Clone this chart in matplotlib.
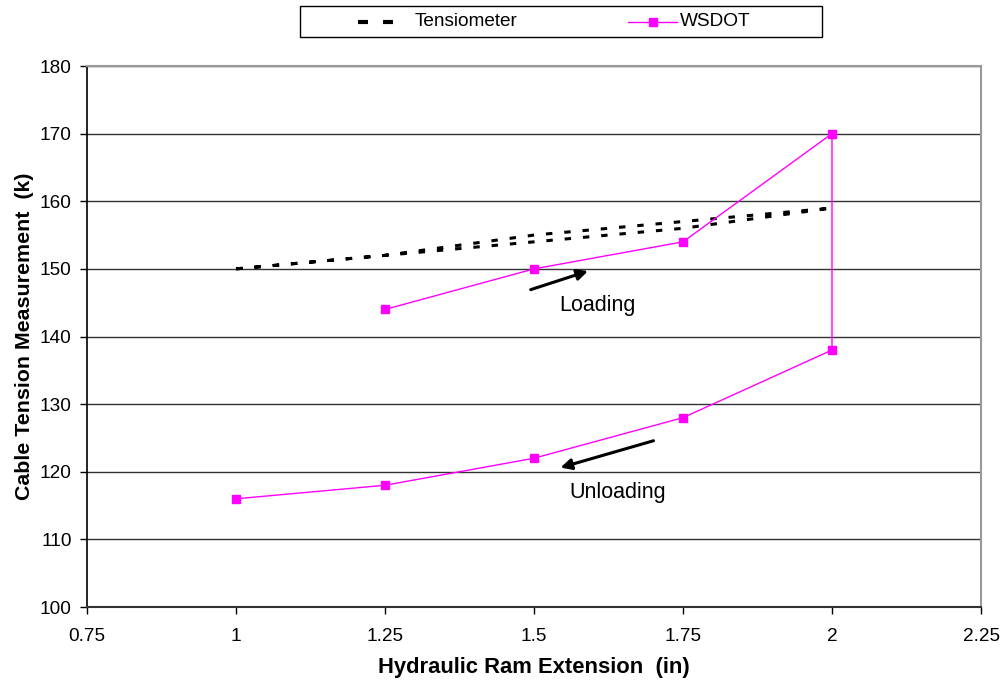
import matplotlib
matplotlib.use("Agg")
import matplotlib.pyplot as plt
from matplotlib.lines import Line2D
from matplotlib.patches import Rectangle

plt.rcParams['font.family'] = ['Liberation Sans', 'DejaVu Sans']

# Data
tens_x = [1.0, 1.25, 1.5, 1.75, 2.0, 1.75, 1.5, 1.25, 1.0]
tens_y = [150, 152, 154, 156, 159, 157, 155, 152, 150]
wsdot_x = [1.25, 1.5, 1.75, 2.0, 2.0, 1.75, 1.5, 1.25, 1.0]
wsdot_y = [144, 150, 154, 170, 138, 128, 122, 118, 116]
x_ticks = [0.75, 1.0, 1.25, 1.5, 1.75, 2.0, 2.25]
x_tick_labels = ["0.75", "1", "1.25", "1.5", "1.75", "2", "2.25"]
y_ticks = [100, 110, 120, 130, 140, 150, 160, 170, 180]
series_names = ['Tensiometer', 'WSDOT']

W, H = 1001, 681
fig = plt.figure(figsize=(W/100, H/100), dpi=100)
ax = fig.add_axes([87/W, 1-607/H, (981-87)/W, (607-66)/H])

ax.plot(tens_x, tens_y, color='black', lw=2.2, dashes=(2.1, 3.9),
        label=series_names[0], zorder=3)
ax.plot(wsdot_x, wsdot_y, color='#FF00FF', lw=1.0, marker='s', ms=6,
        label=series_names[1], zorder=4)

ax.set_xlim(0.75, 2.25)
ax.set_ylim(100, 180)
ax.set_xticks(x_ticks)
ax.set_xticklabels(x_tick_labels)
ax.set_yticks(y_ticks)
ax.yaxis.grid(True, color='#333333', lw=1.0)
ax.set_axisbelow(True)

for s in ['top', 'right']:
    ax.spines[s].set_color('#999999')
    ax.spines[s].set_linewidth(1.5)
ax.spines['left'].set_color('black')
ax.spines['bottom'].set_color('#333333')
ax.spines['left'].set_linewidth(1.2)
ax.spines['bottom'].set_linewidth(1.5)

ax.tick_params(axis='y', length=5, width=1, pad=6, labelsize=13.7)
ax.tick_params(axis='x', length=5, width=1, pad=10, labelsize=13.7)

ax.set_xlabel('Hydraulic Ram Extension  (in)', fontsize=15.8, fontweight='bold', labelpad=9)
ax.set_ylabel('Cable Tension Measurement  (k)', fontsize=15.4, fontweight='bold', labelpad=4)

# Annotations
ax.annotate('', xy=(1.595, 149.8), xytext=(1.49, 146.8),
            arrowprops=dict(arrowstyle='-|>', color='black', lw=2.2, mutation_scale=16))
ax.text(1.607, 144.6, 'Loading', fontsize=15.5, ha='center', va='center')
ax.annotate('', xy=(1.54, 120.5), xytext=(1.705, 124.7),
            arrowprops=dict(arrowstyle='-|>', color='black', lw=2.2, mutation_scale=16))
ax.text(1.64, 117.0, 'Unloading', fontsize=15.5, ha='center', va='center')

# Legend (drawn manually in figure pixel coordinates)
def fx(px):
    return px / W
def fy(py):
    return 1 - py / H

fig.patches.append(Rectangle((fx(300), fy(37)), (822-300)/W, 31/H,
                             transform=fig.transFigure, fill=False,
                             edgecolor='black', lw=1.0))
ly = fy(21.5)
fig.lines.append(Line2D([fx(358), fx(404)], [ly, ly], transform=fig.transFigure,
                        color='black', lw=3, dashes=(2.4, 3.6)))
fig.text(fx(415), ly, series_names[0], fontsize=13.7, va='center', ha='left')
fig.lines.append(Line2D([fx(628), fx(677)], [ly, ly], transform=fig.transFigure,
                        color='#FF00FF', lw=1.0))
fig.lines.append(Line2D([fx(652.5)], [ly], transform=fig.transFigure,
                        color='#FF00FF', marker='s', ms=6, lw=0))
fig.text(fx(680), ly, series_names[1], fontsize=13.7, va='center', ha='left')

fig.savefig('out.png', dpi=100)
